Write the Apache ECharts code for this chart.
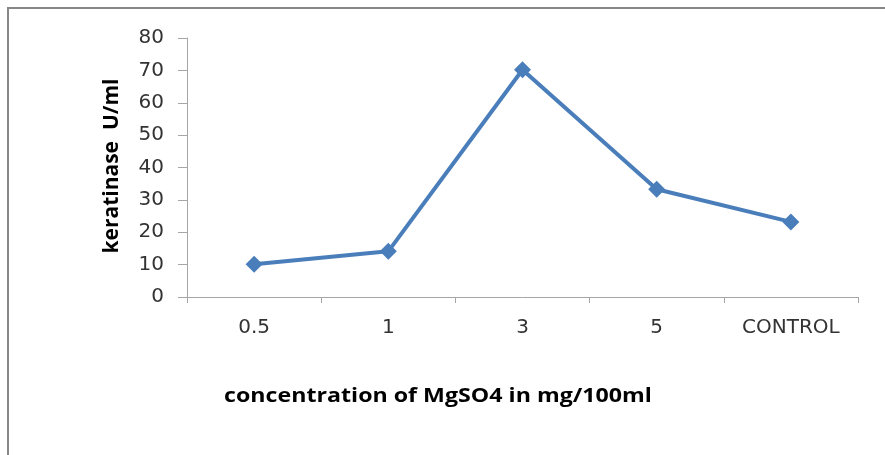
<!DOCTYPE html>
<html><head><meta charset="utf-8">
<script src="https://cdn.jsdelivr.net/npm/echarts@6/dist/echarts.min.js"></script>
<style>html,body{margin:0;padding:0;background:#fff}#c{width:885px;height:455px}</style>
</head><body><div id="c"></div>
<script>
const categories = ['0.5', '1', '3', '5', 'CONTROL'];
const keratinase = [10.1, 14.1, 70.2, 33.3, 23.2];
const yTicks = { min: 0, max: 80, interval: 10 };
const yName = 'keratinase  U/ml';
const xName = 'concentration of MgSO4 in mg/100ml';

const chart = echarts.init(document.getElementById('c'), null, { renderer: 'canvas' });
const font = '"Open Sans", "Liberation Sans", Arial, sans-serif';
const tickFont = '"DejaVu Sans", "Open Sans", sans-serif';
chart.setOption({
  animation: false,
  backgroundColor: '#fff',
  grid: { left: 187, right: 27, top: 38, bottom: 158, containLabel: false },
  graphic: [
    { type: 'rect', shape: { x: 8, y: 8, width: 1000, height: 1000 },
      style: { fill: 'none', stroke: '#878787', lineWidth: 2 }, silent: true },
    { type: 'text', x: 438, y: 397, scaleX: 1.22, style: { text: xName, font: 'bold 19px ' + font, fill: '#000', textAlign: 'center', textVerticalAlign: 'middle' } },
    { type: 'text', x: 112, y: 166, rotation: Math.PI / 2, style: { text: yName, font: 'bold 21px ' + font, fill: '#000', textAlign: 'center', textVerticalAlign: 'middle' } }
  ],
  xAxis: {
    type: 'category', data: categories, boundaryGap: true,
    axisLine: { lineStyle: { color: '#a6a6a6', width: 1 } },
    axisTick: { show: true, length: 6, alignWithLabel: false, lineStyle: { color: '#a6a6a6' } },
    axisLabel: { color: '#333', fontSize: 20, fontFamily: tickFont, margin: 21 },
    splitLine: { show: false }
  },
  yAxis: {
    type: 'value', min: yTicks.min, max: yTicks.max, interval: yTicks.interval,
    axisLine: { show: true, lineStyle: { color: '#a6a6a6', width: 1 } },
    axisTick: { show: true, length: 9, lineStyle: { color: '#a6a6a6' } },
    axisLabel: { color: '#333', fontSize: 20, fontFamily: tickFont, margin: 23 },
    splitLine: { show: false }
  },
  series: [{
    type: 'line', data: keratinase,
    lineStyle: { color: '#4a7ebb', width: 4 },
    itemStyle: { color: '#4a7ebb' },
    symbol: 'diamond', symbolSize: 17, showSymbol: true
  }]
});
</script></body></html>
